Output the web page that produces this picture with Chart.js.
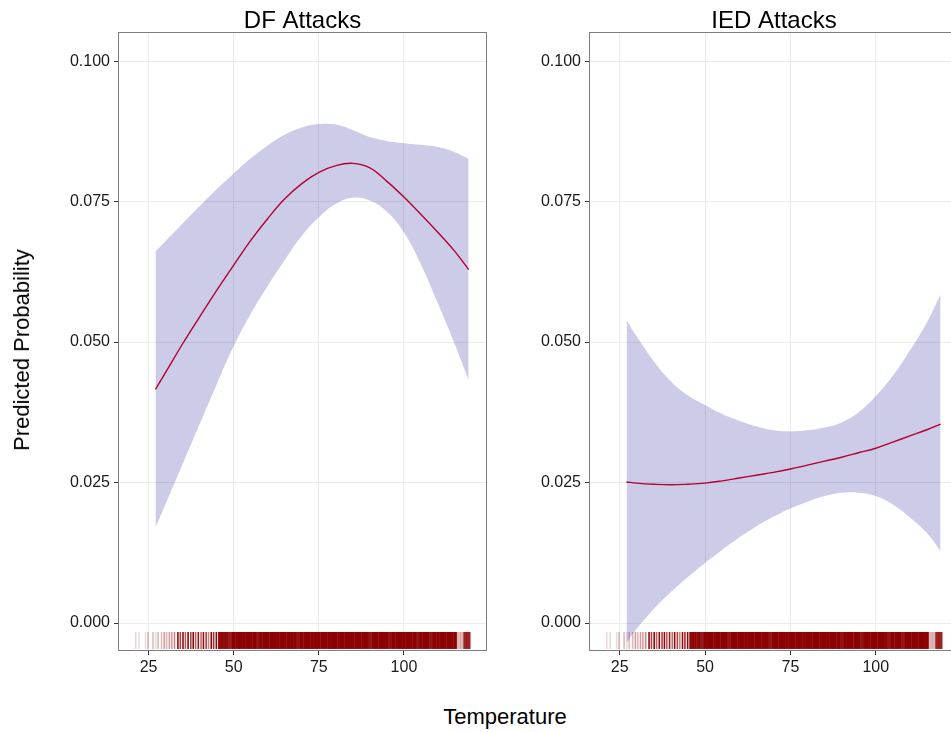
<!DOCTYPE html>
<html>
<head>
<meta charset="utf-8">
<script src="https://cdn.jsdelivr.net/npm/chart.js@4.4.1/dist/chart.umd.min.js"></script>
<style>
  html, body { margin: 0; padding: 0; background: #fff; overflow: hidden; width: 951px; height: 732px; }
  canvas { position: absolute; top: 0; }
  #left { left: 0; }
  #right { left: 490px; }
  .lab { position: absolute; font-family: "Liberation Sans", Arial, sans-serif; font-size: 22px; line-height: 22px; color: #000; white-space: nowrap; }
  #xlab { left: 505px; top: 706px; transform: translateX(-50%); }
  #ylab { left: 22px; top: 350px; transform: translate(-50%, -50%) rotate(-90deg); }
</style>
</head>
<body>
<canvas id="left" width="490" height="700"></canvas>
<canvas id="right" width="470" height="700"></canvas>
<div class="lab" id="xlab">Temperature</div>
<div class="lab" id="ylab">Predicted Probability</div>
<script>
// temperature grid the fitted curves are read at
const temps = [27, 30, 35, 40, 45, 50, 55, 60, 65, 70, 75, 80, 85, 90, 95, 100, 105, 110, 115, 119];

const dfMean  = [0.0416, 0.0446, 0.0497, 0.0545, 0.0592, 0.0637, 0.0681, 0.0720, 0.0755, 0.0782, 0.0802, 0.0814, 0.0818, 0.0810, 0.0786, 0.0758, 0.0727, 0.0695, 0.0661, 0.0629];
const dfUpper = [0.0661, 0.0680, 0.0711, 0.0742, 0.0772, 0.0800, 0.0827, 0.0850, 0.0869, 0.0882, 0.0888, 0.0887, 0.0877, 0.0865, 0.0858, 0.0854, 0.0851, 0.0847, 0.0838, 0.0826];
const dfLower = [0.0170, 0.0212, 0.0283, 0.0354, 0.0425, 0.0493, 0.0550, 0.0600, 0.0646, 0.0689, 0.0722, 0.0746, 0.0757, 0.0752, 0.0732, 0.0695, 0.0638, 0.0568, 0.0495, 0.0432];

const iedMean  = [0.0251, 0.0249, 0.0247, 0.0246, 0.0247, 0.0249, 0.0253, 0.0258, 0.0263, 0.0268, 0.0274, 0.0281, 0.0288, 0.0295, 0.0303, 0.0311, 0.0322, 0.0333, 0.0344, 0.0354];
const iedUpper = [0.0539, 0.0510, 0.0466, 0.0430, 0.0405, 0.0388, 0.0372, 0.0360, 0.0350, 0.0343, 0.0341, 0.0343, 0.0348, 0.0357, 0.0375, 0.0404, 0.0440, 0.0485, 0.0535, 0.0585];
const iedLower = [-0.0035, -0.0010, 0.0025, 0.0055, 0.0082, 0.0107, 0.0130, 0.0152, 0.0172, 0.0189, 0.0204, 0.0216, 0.0226, 0.0232, 0.0232, 0.0226, 0.0211, 0.0188, 0.0160, 0.0128];

const xTicks = [25, 50, 75, 100];
const yTicks = [0, 0.025, 0.05, 0.075, 0.1];

// rug: observed temperatures (sparse low end, then integer readings) and how many fall on each
const rugSparseTemps  = [21.2, 22.2, 24.1, 24.8, 26.3, 27.1, 27.8, 28.8, 29.6, 30.3, 31.1, 31.8, 32.6, 33.6, 34.3, 35.1, 35.8, 36.6, 37.4, 38.1, 38.8, 39.6, 40.4, 41.1, 41.9, 42.6, 43.4, 44.1, 44.9, 45.6];
const rugSparseCounts = [1, 1, 1, 2, 2, 1, 2, 2, 3, 2, 3, 3, 4, 20, 8, 20, 6, 20, 8, 20, 6, 14, 5, 20, 8, 4, 20, 10, 20, 5];
const rugDenseTemps = [46, 47, 48, 49, 50, 51, 52, 53, 54, 55, 56, 57, 58, 59, 60, 61, 62, 63, 64, 65, 66, 67, 68, 69, 70, 71, 72, 73, 74, 75, 76, 77, 78, 79, 80, 81, 82, 83, 84, 85, 86, 87, 88, 89, 90, 91, 92, 93, 94, 95, 96, 97, 98, 99, 100, 101, 102, 103, 104, 105, 106, 107, 108, 109, 110, 111, 112, 113, 114, 115, 116, 117, 118, 119];
const rugDenseCounts = [20, 20, 20, 14, 30, 30, 30, 30, 30, 30, 30, 16, 30, 30, 30, 30, 30, 30, 30, 30, 30, 30, 30, 16, 30, 30, 30, 30, 30, 30, 30, 30, 30, 30, 30, 30, 30, 30, 30, 30, 30, 30, 30, 30, 16, 30, 30, 30, 30, 30, 16, 30, 30, 30, 30, 30, 30, 30, 16, 30, 30, 30, 16, 30, 30, 30, 30, 30, 30, 30, 2, 2, 12, 12];

const RUG_Y = -0.0031;
const FONT = '"Liberation Sans", Arial, sans-serif';

function rugColor(n) {
  return 'rgba(139,0,0,' + (1 - Math.pow(0.85, n)).toFixed(3) + ')';
}

const panelDecor = {
  id: 'panelDecor',
  afterDraw(chart, args, opts) {
    const { ctx, chartArea: a } = chart;
    ctx.save();
    ctx.strokeStyle = '#7f7f7f';
    ctx.lineWidth = 1;
    ctx.strokeRect(Math.round(a.left) - 0.5, Math.round(a.top) - 0.5, Math.round(a.right - a.left) + 1, Math.round(a.bottom - a.top) + 1);
    ctx.fillStyle = '#000';
    ctx.font = '24px ' + FONT;
    ctx.textAlign = 'center';
    ctx.textBaseline = 'alphabetic';
    ctx.fillText(opts.text, (a.left + a.right) / 2, 28);
    ctx.restore();
  }
};

function makePanel(id, title, mean, upper, lower, axisWidth, padRight) {
  const pts = arr => temps.map((t, i) => ({ x: t, y: arr[i] }));
  const curve = { showLine: true, pointRadius: 0, tension: 0.4 };
  return new Chart(document.getElementById(id), {
    type: 'scatter',
    data: {
      datasets: [
        { ...curve, data: pts(upper), fill: '+1', backgroundColor: 'rgba(0,0,139,0.2)', borderColor: 'rgba(0,0,0,0)', borderWidth: 1 },
        { ...curve, data: pts(lower), fill: false, borderColor: 'rgba(0,0,0,0)', borderWidth: 1 },
        { ...curve, data: pts(mean), fill: false, borderColor: '#e0001b', borderWidth: 1.4 },
        {
          data: rugDenseTemps.map(t => ({ x: t, y: RUG_Y })),
          pointStyle: 'line', rotation: 90, pointRadius: 8.5,
          pointBorderWidth: c => Math.abs(c.chart.scales.x.getPixelForValue(1) - c.chart.scales.x.getPixelForValue(0)) + 0.4,
          pointBorderColor: c => rugColor(rugDenseCounts[c.dataIndex])
        },
        {
          data: rugSparseTemps.map(t => ({ x: t, y: RUG_Y })),
          pointStyle: 'line', rotation: 90, pointRadius: 8.5, pointBorderWidth: 1.6,
          pointBorderColor: c => rugColor(rugSparseCounts[c.dataIndex])
        }
      ]
    },
    options: {
      responsive: false,
      animation: false,
      devicePixelRatio: 1,
      events: [],
      layout: { autoPadding: false, padding: { top: 33, right: padRight, left: 0, bottom: 0 } },
      plugins: {
        legend: { display: false },
        tooltip: { enabled: false },
        panelDecor: { text: title }
      },
      scales: {
        x: {
          type: 'linear', min: 16.3, max: 124.1,
          afterBuildTicks: s => { s.ticks = xTicks.map(v => ({ value: v })); },
          afterFit: s => { s.height = 50; s.paddingLeft = 0; s.paddingRight = 0; },
          grid: { color: '#ebebeb', tickColor: '#333', tickLength: 5 },
          border: { display: false },
          ticks: { color: '#1a1a1a', font: { family: FONT, size: 16 }, padding: 3, maxRotation: 0 }
        },
        y: {
          type: 'linear', min: -0.0048, max: 0.105,
          afterBuildTicks: s => { s.ticks = yTicks.map(v => ({ value: v })); },
          afterFit: s => { s.width = axisWidth; s.paddingTop = 0; s.paddingBottom = 0; },
          grid: { color: '#ebebeb', tickColor: '#333', tickLength: 5 },
          border: { display: false },
          ticks: { color: '#1a1a1a', font: { family: FONT, size: 16 }, padding: 4, callback: v => v.toFixed(3) }
        }
      }
    },
    plugins: [panelDecor]
  });
}

makePanel('left', 'DF Attacks', dfMean, dfUpper, dfLower, 119, 4);
makePanel('right', 'IED Attacks', iedMean, iedUpper, iedLower, 100, 2);
</script>
</body>
</html>
